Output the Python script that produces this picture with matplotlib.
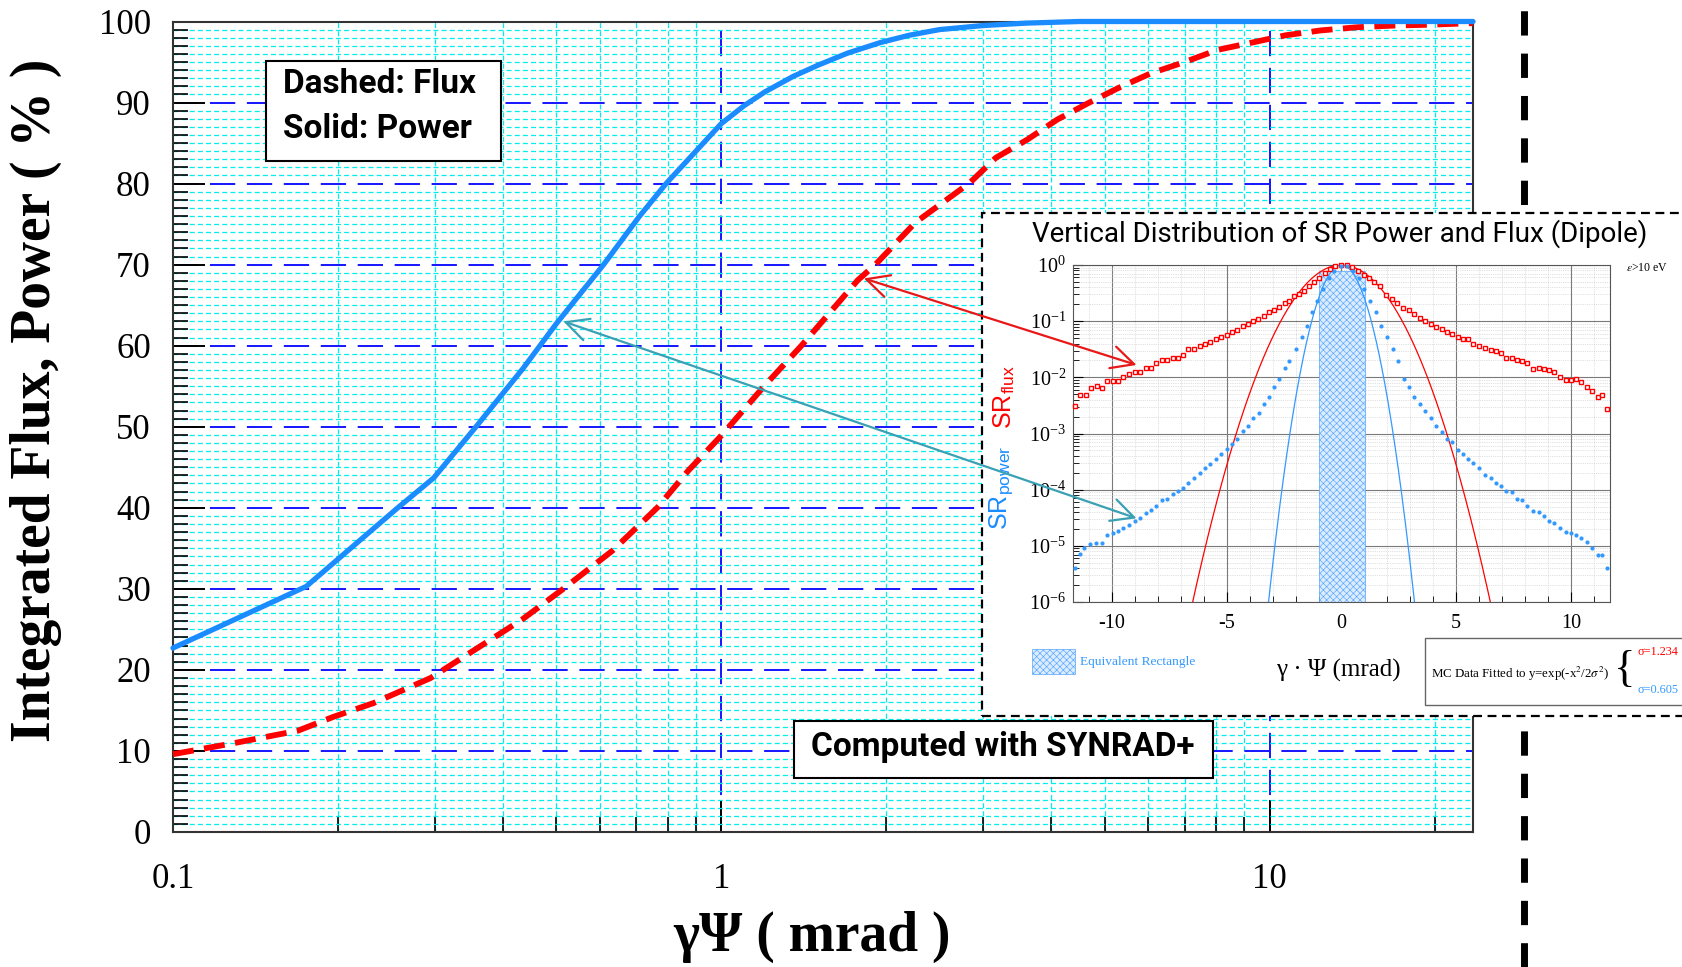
import numpy as np
import matplotlib
matplotlib.use('Agg')
import matplotlib.pyplot as plt
from matplotlib.ticker import MultipleLocator, LogLocator, NullFormatter, FuncFormatter
from matplotlib.patches import Rectangle, ConnectionPatch
from matplotlib.lines import Line2D

plt.rcParams['font.family'] = ['Liberation Serif', 'DejaVu Serif']
plt.rcParams['mathtext.fontset'] = 'stix'
plt.rcParams['hatch.linewidth'] = 0.45
plt.rcParams['axes.unicode_minus'] = False

# main plot: integrated power (solid) and flux (dashed), in %
power_x = [0.1, 0.175, 0.257, 0.299, 0.357, 0.435, 0.5, 0.61, 0.708, 0.793, 1.0,
           1.1, 1.2, 1.35, 1.5, 1.7, 1.95, 2.2, 2.5, 3.0, 3.6, 4.5, 10.0, 23.5]
power_y = [22.7, 30.3, 40.0, 43.7, 50.0, 57.2, 62.7, 70.0, 75.9, 80.0, 87.4,
           89.6, 91.3, 93.2, 94.6, 96.1, 97.4, 98.3, 99.0, 99.5, 99.8, 100.0, 100.0, 100.0]

flux_x = [0.1, 0.13, 0.169, 0.196, 0.232, 0.295, 0.404, 0.435, 0.515, 0.633, 0.764,
          0.871, 1.0, 1.197, 1.40, 1.775, 1.91, 2.26, 2.84, 3.17, 3.61, 4.1, 4.66,
          5.3, 6.07, 7.0, 8.04, 9.29, 10.7, 12.4, 14.5, 16.9, 19.5, 23.5]
flux_y = [9.6, 11.0, 12.5, 14.2, 15.9, 19.0, 24.9, 26.3, 30.0, 34.7, 40.0,
          44.6, 48.9, 55.0, 60.0, 68.1, 70.0, 75.2, 80.1, 83.2, 85.4, 87.9, 89.9,
          91.8, 93.6, 95.0, 96.5, 97.4, 98.3, 98.9, 99.3, 99.5, 99.6, 99.8]

# inset: vertical distribution, values as log10
in_flux_x = [-11.62, -11.39, -11.13, -10.92, -10.65, -10.45, -10.20, -9.96, -9.75, -9.51,
             -9.28, -9.02, -8.79, -8.53, -8.32, -8.08, -7.83, -7.59, -7.36, -7.14,
             -6.89, -6.67, -6.44, -6.18, -5.95, -5.71, -5.48, -5.26, -5.00, -4.77,
             -4.54, -4.30, -4.07, -3.84, -3.64, -3.39, -3.15, -2.95, -2.72, -2.47,
             -2.27, -2.07, -1.84, -1.62, -1.41, -1.19, -0.96, -0.74, -0.51, -0.27, -0.02,
             0.23, 0.47, 0.70, 0.96, 1.19, 1.41, 1.68, 1.94, 2.19, 2.43,
             2.66, 2.92, 3.15, 3.41, 3.64, 3.89, 4.13, 4.38, 4.58, 4.83,
             5.07, 5.30, 5.52, 5.75, 6.01, 6.24, 6.50, 6.73, 6.93, 7.16,
             7.42, 7.65, 7.87, 8.10, 8.34, 8.59, 8.83, 9.04, 9.28, 9.51,
             9.77, 9.98, 10.22, 10.45, 10.68, 10.92, 11.17, 11.37, 11.59]
in_flux_log = [-2.51, -2.31, -2.31, -2.19, -2.16, -2.19, -2.06, -2.06, -2.06, -1.99,
               -1.94, -1.91, -1.91, -1.84, -1.84, -1.75, -1.69, -1.69, -1.65, -1.65,
               -1.60, -1.50, -1.50, -1.44, -1.40, -1.37, -1.32, -1.29, -1.25, -1.19,
               -1.15, -1.09, -1.05, -1.00, -0.96, -0.90, -0.84, -0.80, -0.74, -0.68,
               -0.64, -0.56, -0.52, -0.46, -0.37, -0.30, -0.23, -0.15, -0.07, -0.02, 0.0,
               0.0, -0.04, -0.10, -0.17, -0.23, -0.31, -0.37, -0.53, -0.61, -0.68,
               -0.76, -0.80, -0.87, -0.95, -0.99, -1.05, -1.11, -1.14, -1.19, -1.22,
               -1.28, -1.31, -1.32, -1.40, -1.44, -1.48, -1.52, -1.54, -1.57, -1.65,
               -1.66, -1.69, -1.71, -1.75, -1.85, -1.83, -1.85, -1.87, -1.91, -1.99,
               -2.05, -2.05, -2.03, -2.09, -2.17, -2.25, -2.35, -2.31, -2.57]

in_power_x = [-11.62, -11.39, -11.21, -10.94, -10.68, -10.45, -10.20, -9.96, -9.75, -9.51,
              -9.28, -9.02, -8.79, -8.53, -8.32, -8.08, -7.83, -7.59, -7.36, -7.14,
              -6.89, -6.67, -6.44, -6.18, -5.95, -5.71, -5.48, -5.26, -5.01, -4.77,
              -4.54, -4.31, -4.07, -3.84, -3.60, -3.39, -3.15, -2.92, -2.72, -2.47,
              -2.27, -1.98, -1.74, -1.51, -1.29, -1.06, -0.80, -0.55, -0.31, -0.02,
              0.23, 0.51, 0.76, 0.99, 1.25, 1.49, 1.72, 1.98, 2.23, 2.47,
              2.72, 2.95, 3.17, 3.41, 3.64, 3.89, 4.13, 4.38, 4.58, 4.83,
              5.07, 5.30, 5.52, 5.75, 6.01, 6.24, 6.50, 6.73, 6.93, 7.16,
              7.42, 7.65, 7.87, 8.10, 8.34, 8.59, 8.83, 9.04, 9.28, 9.51,
              9.77, 9.98, 10.22, 10.45, 10.68, 10.92, 11.17, 11.37, 11.59]
in_power_log = [-5.40, -5.14, -5.04, -4.96, -4.95, -4.95, -4.80, -4.77, -4.74, -4.68,
                -4.63, -4.56, -4.50, -4.41, -4.37, -4.29, -4.19, -4.17, -4.08, -4.02,
                -3.97, -3.89, -3.80, -3.70, -3.61, -3.55, -3.46, -3.37, -3.28, -3.19,
                -3.10, -2.95, -2.87, -2.73, -2.63, -2.48, -2.35, -2.17, -2.03, -1.83,
                -1.71, -1.50, -1.29, -1.08, -0.84, -0.64, -0.43, -0.23, -0.10, -0.01,
                -0.01, -0.10, -0.23, -0.43, -0.64, -0.84, -1.08, -1.29, -1.50, -1.71,
                -2.03, -2.17, -2.35, -2.48, -2.60, -2.73, -2.87, -2.98, -3.09, -3.16,
                -3.30, -3.37, -3.46, -3.52, -3.61, -3.73, -3.80, -3.88, -3.94, -4.03,
                -4.05, -4.17, -4.19, -4.29, -4.38, -4.39, -4.47, -4.56, -4.59, -4.68,
                -4.76, -4.77, -4.80, -4.86, -4.93, -5.03, -5.17, -5.17, -5.40]

# gaussian fits quoted on the chart
sigma_flux = 1.234
sigma_power = 0.605
rect_lo, rect_hi, rect_top = -1.0, 1.02, 0.78

W, H = 1683, 967
def fx(px):
    return px / W
def fy(py):
    return 1 - py / H

RED = '#ff0000'
BLUE = '#1a8cff'
LBLUE = '#3399ff'
TEAL = '#3aa0b4'
HATCH_FC = '#dcecff'
HATCH_EC = '#55a5ff'

fig = plt.figure(figsize=(W / 100, H / 100), dpi=100)

# ---------------- main axes ----------------
ax = fig.add_axes([fx(173), fy(832), (1473 - 173) / W, (832 - 21.5) / H])
ax.set_xscale('log')
ax.set_xlim(0.1, 23.5)
ax.set_ylim(0, 100)

ax.plot(flux_x, flux_y, color=RED, lw=4.2, dashes=(3.6, 1.8), clip_on=False, zorder=3)
ax.plot(power_x, power_y, color=BLUE, lw=3.8, clip_on=False, zorder=4,
        solid_capstyle='round', solid_joinstyle='round')

ax.set_xticks([0.1, 1, 10])
ax.set_xticklabels(['0.1', '1', '10'])
ax.xaxis.set_minor_locator(LogLocator(base=10, subs=(2, 3, 4, 5, 6, 7, 8, 9)))
ax.xaxis.set_minor_formatter(NullFormatter())
ax.set_yticks(range(0, 101, 10))
ax.yaxis.set_minor_locator(MultipleLocator(1))

ax.grid(which='minor', color='#00eeee', ls=(0, (4, 2.5)), lw=0.9)
ax.grid(which='major', color='#1515ff', ls=(0, (13, 6)), lw=1.4)
ax.set_axisbelow(True)

ax.tick_params(which='major', direction='in', length=23, width=1.4, labelsize=25)
ax.tick_params(which='minor', direction='in', length=11, width=1.2)
ax.tick_params(axis='x', which='major', pad=22)
ax.tick_params(axis='y', which='major', pad=16)
for sp in ax.spines.values():
    sp.set_linewidth(1.5)
    sp.set_color('#333333')

fig.text(fx(36), fy(400), 'Integrated Flux, Power ( % )', rotation=90,
         fontsize=40, fontweight='bold', ha='center', va='center')
fig.text(fx(812), fy(937), 'γΨ ( mrad )', fontsize=40, fontweight='bold',
         ha='center', va='center')

# text boxes on the main plot
fig.add_artist(Rectangle((fx(266), fy(161)), (501 - 266) / W, (161 - 61) / H,
                         transform=fig.transFigure, fc='white', ec='black', lw=1.5, zorder=2))
fig.text(fx(283), fy(84), 'Dashed: Flux', fontfamily='Roboto', fontweight='bold',
         fontsize=24, va='center', zorder=3)
fig.text(fx(283), fy(129), 'Solid: Power', fontfamily='Roboto', fontweight='bold',
         fontsize=24, va='center', zorder=3)

fig.add_artist(Rectangle((fx(794), fy(778)), (1213 - 794) / W, (778 - 721) / H,
                         transform=fig.transFigure, fc='white', ec='black', lw=1.5, zorder=2))
fig.text(fx(1003), fy(747), 'Computed with SYNRAD+', fontfamily='Roboto', fontweight='bold',
         fontsize=24, ha='center', va='center', zorder=3)

# thick dashed separator on the right
fig.add_artist(Line2D([fx(1524), fx(1524)], [0, 1], transform=fig.transFigure,
                      color='black', lw=5, dashes=(3.5, 2.6), zorder=0.5))

# ---------------- inset ----------------
fig.add_artist(Rectangle((fx(982), fy(716)), (1700 - 982) / W, (716 - 212.5) / H,
                         transform=fig.transFigure, fc='white', ec='black', lw=1.6,
                         ls=(0, (4, 2.5)), zorder=1))

ax2 = fig.add_axes([fx(1073), fy(602), (1610 - 1073) / W, (602 - 265) / H])
ax2.set_zorder(3)
ax2.set_yscale('log')
ax2.set_xlim(-11.7, 11.7)
ax2.set_ylim(1e-6, 1)

fit_x = np.linspace(-11.7, 11.7, 800)
ax2.plot(fit_x, np.exp(-fit_x ** 2 / (2 * sigma_flux ** 2)), color=RED, lw=0.9, zorder=3)
ax2.plot(fit_x, np.exp(-fit_x ** 2 / (2 * sigma_power ** 2)), color=LBLUE, lw=0.9, zorder=3)
ax2.add_patch(Rectangle((rect_lo, 1e-6), rect_hi - rect_lo, rect_top - 1e-6,
                        fc=HATCH_FC, ec=HATCH_EC, hatch='xxxxx', lw=0.5, zorder=2))
ax2.plot(in_flux_x, 10 ** np.array(in_flux_log), ls='none', marker='s', ms=3.4,
         mfc='white', mec=RED, mew=1.0, clip_on=False, zorder=4)
ax2.plot(in_power_x, 10 ** np.array(in_power_log), ls='none', marker='o', ms=3.0,
         color=LBLUE, mew=0, clip_on=False, zorder=4)

ax2.xaxis.set_major_locator(MultipleLocator(5))
ax2.xaxis.set_minor_locator(MultipleLocator(1))
ax2.xaxis.set_major_formatter(FuncFormatter(lambda v, p: '%d' % v))
ax2.set_yticks([1e-6, 1e-5, 1e-4, 1e-3, 1e-2, 1e-1, 1])
ax2.yaxis.set_minor_locator(LogLocator(base=10, subs=(2, 3, 4, 5, 6, 7, 8, 9), numticks=20))
ax2.yaxis.set_minor_formatter(NullFormatter())
ax2.grid(which='major', color='#7a7a7a', lw=0.8)
ax2.grid(which='minor', color='#c4c4c4', lw=0.5, ls=':')
ax2.tick_params(which='major', direction='in', length=7, width=0.8, labelsize=14.5)
ax2.tick_params(which='minor', direction='in', length=4, width=0.6)
ax2.tick_params(axis='x', pad=9)
ax2.tick_params(axis='y', pad=5)
for sp in ax2.spines.values():
    sp.set_linewidth(0.8)
    sp.set_color('#555555')

fig.text(fx(1340), fy(234), 'Vertical Distribution of SR Power and Flux (Dipole)',
         fontfamily='Roboto', fontsize=20, ha='center', va='center', zorder=4)
fig.text(fx(1626), fy(268), r'$\varepsilon$>10 eV', fontsize=8.5, va='center', zorder=4)
fig.text(fx(1004), fy(397), r'SR$_\mathregular{flux}$', color=RED, rotation=90,
         fontfamily='Liberation Sans', fontsize=18, ha='center', va='center', zorder=4)
fig.text(fx(1001), fy(488), r'SR$_\mathregular{power}$', color=BLUE, rotation=90,
         fontfamily='Liberation Sans', fontsize=18, ha='center', va='center', zorder=4)

fig.add_artist(Rectangle((fx(1032), fy(674)), (1075 - 1032) / W, (674 - 649) / H,
                         transform=fig.transFigure, fc=HATCH_FC, ec=HATCH_EC, hatch='xxxxx',
                         lw=0.5, zorder=4))
fig.text(fx(1080), fy(662), 'Equivalent Rectangle', color=LBLUE, fontsize=9.6,
         va='center', zorder=4)
fig.text(fx(1338), fy(670), 'γ · Ψ (mrad)', fontsize=18, ha='center', va='center', zorder=4)

fig.add_artist(Rectangle((fx(1425), fy(705)), (1700 - 1425) / W, (705 - 638) / H,
                         transform=fig.transFigure, fc='white', ec='#666666', lw=1, zorder=4))
fig.text(fx(1431), fy(674), r'MC Data Fitted to y=exp(-x$^{2}$/2$\sigma^{2}$)',
         fontsize=9.3, va='center', zorder=5)
fig.text(fx(1625), fy(670), '{', fontsize=32, ha='center', va='center', zorder=5)
fig.text(fx(1638), fy(652), 'σ=1.234', color=RED, fontsize=8.8, va='center', zorder=5)
fig.text(fx(1638), fy(690), 'σ=0.605', color=LBLUE, fontsize=8.8, va='center', zorder=5)

# arrows linking the curves to the inset
for xa, xb, col in [((1.82, 68.3), (-8.93, 10 ** -1.78), '#e81818'),
                    ((0.515, 63.0), (-8.93, 10 ** -4.51), TEAL)]:
    con = ConnectionPatch(xyA=xa, coordsA='data', axesA=ax, xyB=xb, coordsB='data',
                          axesB=ax2, arrowstyle='<->,head_length=0.9,head_width=0.45',
                          color=col, lw=1.6, mutation_scale=18, zorder=6)
    fig.add_artist(con)

fig.savefig('out.png', dpi=100)
